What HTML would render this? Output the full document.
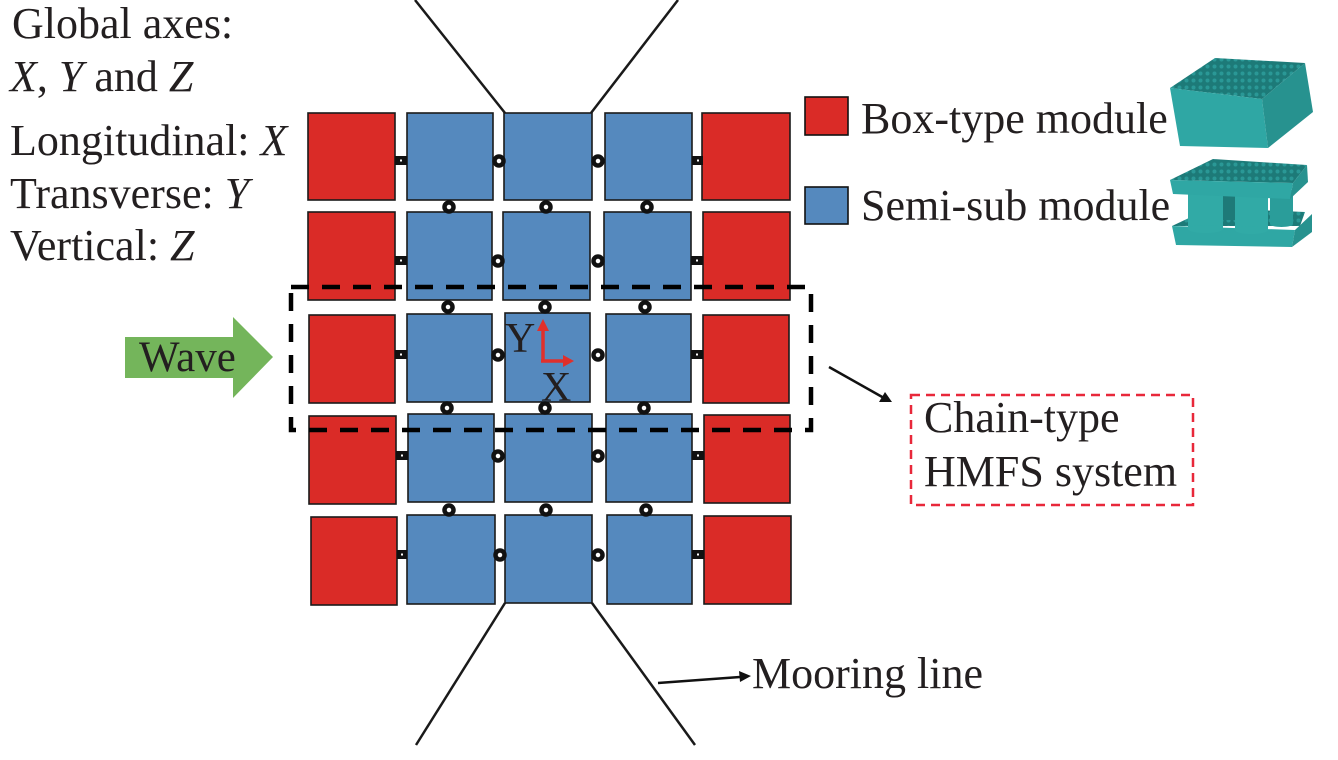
<!DOCTYPE html>
<html><head><meta charset="utf-8"><style>
html,body{margin:0;padding:0;background:#fff;}
svg{display:block;}
text{font-family:"Liberation Serif","Times New Roman",serif;fill:#231f20;}
</style></head><body>
<svg width="1338" height="760" viewBox="0 0 1338 760" xmlns="http://www.w3.org/2000/svg">
<defs>
<pattern id="grid" width="7" height="7" patternUnits="userSpaceOnUse">
<rect width="7" height="7" fill="#1d7a78"/>
<circle cx="3.5" cy="3.5" r="2" fill="#2a9896"/>
</pattern>
</defs>
<!-- mooring lines -->
<g stroke="#1a1a1a" stroke-width="2.5" fill="none">
<line x1="415" y1="0" x2="505" y2="113"/>
<line x1="678" y1="0" x2="591" y2="113"/>
<line x1="505" y1="603" x2="416" y2="745"/>
<line x1="592" y1="603" x2="695" y2="745"/>
</g>
<!-- modules -->
<g stroke="#1a1a1a" stroke-width="1.6">
<rect x="308" y="113" width="87" height="87" fill="#da2b27"/>
<rect x="407" y="113" width="86" height="87" fill="#5589be"/>
<rect x="504" y="113" width="88" height="87" fill="#5589be"/>
<rect x="605" y="113" width="87" height="87" fill="#5589be"/>
<rect x="702" y="113" width="88" height="87" fill="#da2b27"/>
<rect x="308" y="212" width="87" height="88" fill="#da2b27"/>
<rect x="407" y="212" width="85" height="88" fill="#5589be"/>
<rect x="503" y="212" width="87" height="88" fill="#5589be"/>
<rect x="604" y="212" width="87" height="88" fill="#5589be"/>
<rect x="703" y="212" width="87" height="88" fill="#da2b27"/>
<rect x="309" y="315" width="86" height="88" fill="#da2b27"/>
<rect x="407" y="314" width="85" height="88" fill="#5589be"/>
<rect x="505" y="313" width="85" height="89" fill="#5589be"/>
<rect x="606" y="314" width="85" height="88" fill="#5589be"/>
<rect x="703" y="315" width="86" height="88" fill="#da2b27"/>
<rect x="309" y="416" width="87" height="88" fill="#da2b27"/>
<rect x="408" y="414" width="86" height="88" fill="#5589be"/>
<rect x="505" y="414" width="87" height="88" fill="#5589be"/>
<rect x="606" y="414" width="86" height="88" fill="#5589be"/>
<rect x="704" y="415" width="86" height="88" fill="#da2b27"/>
<rect x="311" y="517" width="86" height="88" fill="#da2b27"/>
<rect x="407" y="515" width="88" height="89" fill="#5589be"/>
<rect x="505" y="515" width="87" height="88" fill="#5589be"/>
<rect x="607" y="515" width="85" height="89" fill="#5589be"/>
<rect x="704" y="516" width="87" height="88" fill="#da2b27"/>
</g>
<!-- square connectors -->
<g fill="#111">
<rect x="395" y="156" width="12" height="9"/><rect x="692" y="156" width="11" height="9"/>
<rect x="395" y="256" width="12" height="9"/><rect x="691" y="256" width="12" height="9"/>
<rect x="395" y="350" width="12" height="9"/><rect x="691" y="350" width="12" height="9"/>
<rect x="396" y="451" width="12" height="9"/><rect x="692" y="451" width="12" height="9"/>
<rect x="397" y="550" width="10" height="9"/><rect x="692" y="550" width="12" height="9"/>
</g>
<g fill="#fff">
<rect x="400" y="159.5" width="2" height="2"/><rect x="697" y="159.5" width="2" height="2"/>
<rect x="400" y="259.5" width="2" height="2"/><rect x="696" y="259.5" width="2" height="2"/>
<rect x="400" y="353.5" width="2" height="2"/><rect x="696" y="353.5" width="2" height="2"/>
<rect x="401" y="454.5" width="2" height="2"/><rect x="697" y="454.5" width="2" height="2"/>
<rect x="401" y="553.5" width="2" height="2"/><rect x="697" y="553.5" width="2" height="2"/>
</g>
<!-- ring connectors -->
<g fill="#fff" stroke="#111" stroke-width="4.5">
<circle cx="499" cy="161" r="4.5"/><circle cx="598" cy="161" r="4.5"/>
<circle cx="498" cy="261" r="4.5"/><circle cx="598" cy="261" r="4.5"/>
<circle cx="498" cy="355" r="4.5"/><circle cx="598" cy="355" r="4.5"/>
<circle cx="498" cy="456" r="4.5"/><circle cx="598" cy="456" r="4.5"/>
<circle cx="500" cy="555" r="4.5"/><circle cx="598" cy="555" r="4.5"/>
<circle cx="449" cy="207" r="4.5"/><circle cx="546" cy="207" r="4.5"/><circle cx="647" cy="207" r="4.5"/>
<circle cx="448" cy="307" r="4.5"/><circle cx="545" cy="307" r="4.5"/><circle cx="645" cy="307" r="4.5"/>
<circle cx="447" cy="408" r="4.5"/><circle cx="545" cy="408" r="4.5"/><circle cx="644" cy="408" r="4.5"/>
<circle cx="449" cy="510" r="4.5"/><circle cx="546" cy="510" r="4.5"/><circle cx="646" cy="510" r="4.5"/>
</g>
<!-- dashed selection box -->
<rect x="291" y="287" width="520" height="143" fill="none" stroke="#000" stroke-width="4.5" stroke-dasharray="18 13"/>
<!-- local axes -->
<g stroke="#e0302c" stroke-width="3.5" fill="none">
<line x1="543" y1="362" x2="543" y2="330"/>
<line x1="541" y1="361" x2="564" y2="361"/>
</g>
<polygon points="543,319 537,331 549,331" fill="#e0302c"/>
<polygon points="574,361 563,355 563,367" fill="#e0302c"/>
<text x="505" y="352" font-size="42">Y</text>
<text x="541" y="401" font-size="42">X</text>
<!-- wave arrow -->
<polygon points="125,337 233,337 233,317 273,357 233,398 233,378 125,378" fill="#74b55b"/>
<text x="139" y="371" font-size="43">Wave</text>
<!-- left text -->
<text x="12" y="38" font-size="44">Global axes:</text>
<text x="10" y="91" font-size="44"><tspan font-style="italic">X</tspan>, <tspan font-style="italic">Y</tspan> and <tspan font-style="italic">Z</tspan></text>
<text x="10" y="155" font-size="44">Longitudinal: <tspan font-style="italic">X</tspan></text>
<text x="10" y="208" font-size="44">Transverse: <tspan font-style="italic">Y</tspan></text>
<text x="10" y="260" font-size="44">Vertical: <tspan font-style="italic">Z</tspan></text>
<!-- chain-type label -->
<line x1="829" y1="367" x2="884" y2="398" stroke="#111" stroke-width="2.5"/>
<polygon points="892,402 879,402 885,392" fill="#111"/>
<rect x="911" y="395" width="282" height="110" fill="none" stroke="#e8283a" stroke-width="2.5" stroke-dasharray="9 6"/>
<text x="924" y="432" font-size="44">Chain-type</text>
<text x="924" y="486" font-size="44">HMFS system</text>
<!-- mooring label -->
<line x1="658" y1="683" x2="740" y2="677" stroke="#111" stroke-width="2.5"/>
<polygon points="751,676 739,671 740,682" fill="#111"/>
<text x="752" y="688" font-size="44">Mooring line</text>
<!-- legend -->
<rect x="805" y="97" width="43" height="38" fill="#da2b27" stroke="#111" stroke-width="1.6"/>
<rect x="805" y="187" width="43" height="37" fill="#5589be" stroke="#111" stroke-width="1.6"/>
<!-- 3D box module -->
<polygon points="1170,88 1215,58 1305,63 1262,99" fill="url(#grid)"/>
<polygon points="1170,88 1262,99 1268,148 1180,146" fill="#2fa7a4"/>
<polygon points="1262,99 1305,63 1313,112 1268,148" fill="#27928f"/>
<!-- 3D semi-sub module -->
<polygon points="1172,226 1210,208 1305,212 1300,226" fill="url(#grid)"/>
<polygon points="1172,226 1295,230 1292,247 1176,245" fill="#2fa7a4"/>
<polygon points="1295,230 1312,214 1312,232 1292,247" fill="#27928f"/>
<rect x="1270" y="190" width="23" height="34" fill="#2a9d9a"/>
<ellipse cx="1281.5" cy="224" rx="11.5" ry="3" fill="#2a9d9a"/>
<rect x="1221" y="192" width="14" height="28" fill="#1e7a78"/>
<rect x="1188" y="194" width="35" height="35" fill="#31aaa6"/>
<ellipse cx="1205.5" cy="229" rx="17.5" ry="4" fill="#31aaa6"/>
<rect x="1235" y="194" width="33" height="36" fill="#31aaa6"/>
<ellipse cx="1251.5" cy="230" rx="16.5" ry="4" fill="#31aaa6"/>
<polygon points="1170,180 1213,159 1307,165 1293,183" fill="url(#grid)"/>
<polygon points="1170,180 1293,183 1290,199 1173,194" fill="#2fa7a4"/>
<polygon points="1293,183 1307,165 1308,182 1290,199" fill="#27928f"/>
<text x="861" y="133" font-size="44">Box-type module</text>
<text x="861" y="220" font-size="44">Semi-sub module</text>
</svg>
</body></html>
